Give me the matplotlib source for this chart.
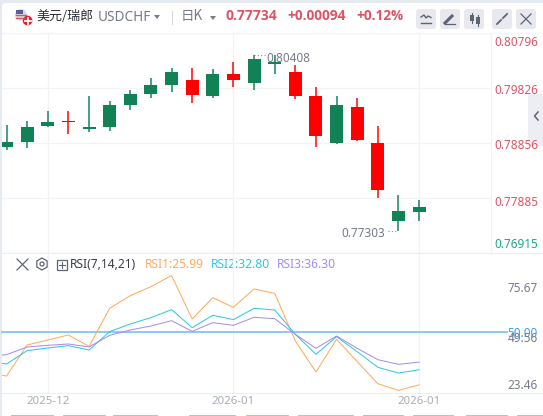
import matplotlib.pyplot as plt
from matplotlib.patches import Circle, FancyBboxPatch, Rectangle, RegularPolygon
from matplotlib.transforms import ScaledTranslation

plt.rcParams['font.family'] = ['Noto Sans', 'Noto Sans CJK SC', 'DejaVu Sans']

# daily candles
opens = [0.78785, 0.78874, 0.79156, 0.79244, 0.79103, 0.79138, 0.79526, 0.79720, 0.79879, 0.79967, 0.79685,
         0.80073, 0.79914, 0.80249, 0.80108, 0.79685, 0.78856, 0.79491, 0.78856, 0.77480, 0.77640]
highs = [0.79173, 0.79244, 0.79420, 0.79420, 0.79685, 0.79597, 0.79791, 0.80002, 0.80179, 0.80179, 0.80161,
         0.80285, 0.80408, 0.80408, 0.80232, 0.79844, 0.79685, 0.79650, 0.79156, 0.77939, 0.77851]
lows = [0.78733, 0.78768, 0.79138, 0.79015, 0.79050, 0.79068, 0.79438, 0.79650, 0.79755, 0.79561, 0.79650,
        0.79844, 0.79791, 0.80073, 0.79632, 0.78785, 0.78838, 0.78891, 0.77886, 0.77303, 0.77480]
closes = [0.78874, 0.79138, 0.79231, 0.79226, 0.79138, 0.79526, 0.79720, 0.79879, 0.80108, 0.79703, 0.80073,
          0.79967, 0.80337, 0.80285, 0.79685, 0.78979, 0.79526, 0.78909, 0.78027, 0.77657, 0.77734]

# RSI, first value sits just off the left edge
rsi_x = list(range(-1, 21))
rsi1 = [31.5, 30.0, 44.09, 46.36, 48.64, 43.48, 60.76, 66.52, 70.6, 75.67, 55.91, 65.6, 61.2, 69.55, 67.58,
        45.91, 31.82, 46.67, 36.52, 26.52, 23.46, 25.99]
rsi2 = [37.0, 35.45, 41.52, 42.73, 43.79, 41.82, 50.15, 53.64, 56.52, 60.15, 51.97, 57.58, 55.61, 60.76, 60.0,
        48.94, 39.85, 47.88, 41.06, 33.94, 31.36, 32.80]
rsi3 = [38.9, 39.7, 43.18, 43.94, 44.55, 43.18, 48.48, 50.91, 52.73, 55.15, 50.3, 54.24, 53.03, 56.67, 56.06,
        48.94, 42.58, 48.18, 42.58, 37.42, 35.3, 36.30]

price_ticks = [0.80796, 0.79826, 0.78856, 0.77885, 0.76915]
rsi_ticks = [75.67, 50.00, 49.56, 23.46]
date_pos = [2, 11, 20]
date_labels = ['2025-12', '2026-01', '2026-01']

W, H = 543, 416
UP = '#118256'
DOWN = '#ff0000'
GRID = '#f2f3f6'
RED_TXT = '#dd5565'
GREY_TXT = '#767b8a'
BTN = '#e7e9ef'
ICON = '#5f6473'
PX = 0.72  # font points per pixel at dpi 100


def box(x0, y0, x1, y1):
    return [x0 / W, 1 - y1 / H, (x1 - x0) / W, (y1 - y0) / H]


fig = plt.figure(figsize=(W / 100, H / 100), dpi=100, facecolor='#e6ebf2')

# page chrome in pixel coordinates
ui = fig.add_axes([0, 0, 1, 1], zorder=0)
ui.set_xlim(0, W)
ui.set_ylim(H, 0)
ui.axis('off')
ui.add_patch(FancyBboxPatch((2, 3), W + 20, H, boxstyle='round,pad=0,rounding_size=4', fc='white', ec='none'))
ui.plot([2, W], [33, 33], color='#f5f6f8', lw=1)
ui.add_patch(Rectangle((528, 94), 15, 52, fc='#eceef3', ec='none'))
ui.plot([538, 534.5, 538], [112, 116, 120], color=ICON, lw=1.1)
ui.plot([491, 491], [33, 253], color=GRID, lw=0.8)
ui.plot([2, W], [253, 253], color='#eceef2', lw=0.8)
ui.plot([2, W], [393, 393], color='#eceef2', lw=0.8)

# clipped row of buttons along the bottom edge
for x0, x1 in [(12, 53), (64, 105), (114, 157), (190, 235), (247, 288), (299, 353), (364, 403), (414, 453), (467, 507), (518, 543)]:
    ui.plot([x0, x1], [415.5, 415.5], color='#e3a94f', lw=1.2)

# flag
ui.add_patch(Circle((21, 15), 6, fc='#d8dbe6', ec='none'))
ui.add_patch(Rectangle((15.5, 9.5), 7, 4, fc='#5a5f95', ec='none'))
ui.plot([16, 26], [15, 15], color='#cf5b66', lw=1)
ui.plot([16, 25], [18, 18], color='#cf5b66', lw=1)
ui.add_patch(Circle((27.5, 20.5), 5.3, fc='#ea1c2c', ec='white', lw=0.6))
ui.plot([24.5, 30.5], [20.5, 20.5], color='white', lw=1.3)
ui.plot([27.5, 27.5], [17.5, 23.5], color='white', lw=1.3)

ui.text(36, 16, '美元/瑞郎', fontsize=13 * PX, color='#2b2e38', va='center', family=['Noto Sans CJK SC', 'DejaVu Sans'])
ui.text(98, 17.5, 'USDCHF', fontsize=13.6 * PX, color=GREY_TXT, va='center')
ui.text(181, 16, '日K', fontsize=13.5 * PX, color=GREY_TXT, va='center', family=['Noto Sans CJK SC', 'DejaVu Sans'])
ui.fill([154, 160, 157], [15, 15, 19], color=GREY_TXT, lw=0)
ui.fill([210, 216, 213], [16, 16, 20], color=GREY_TXT, lw=0)
ui.plot([171.5, 171.5], [11, 24], color='#d5d8df', lw=0.8)
ui.text(226, 16, '0.77734', fontsize=13.9 * PX, color=RED_TXT, va='center', weight='bold', family='Open Sans')
ui.text(287, 16, '+0.00094', fontsize=13.6 * PX, color=RED_TXT, va='center', weight='bold', family='Open Sans')
ui.text(356, 16, '+0.12%', fontsize=13.6 * PX, color=RED_TXT, va='center', weight='bold', family='Open Sans')

for x0 in [416, 440, 464, 492, 516]:
    ui.add_patch(FancyBboxPatch((x0, 9), 20, 20, boxstyle='round,pad=0,rounding_size=3', fc=BTN, ec='none'))
ui.plot([421, 424, 426, 428, 431], [17, 15, 18, 16, 17.5], color=ICON, lw=1)
ui.plot([421, 431], [22.5, 22.5], color=ICON, lw=1)
ui.plot([445, 452], [23, 16], color=ICON, lw=2.2)
ui.plot([445, 455], [24, 24], color=ICON, lw=0.9)
ui.add_patch(Rectangle((469.5, 15), 4, 6, fc=ICON, ec='none'))
ui.add_patch(Rectangle((476, 17), 4, 7, fc=ICON, ec='none'))
ui.plot([471.5, 471.5], [13, 23], color=ICON, lw=0.8)
ui.plot([478, 478], [15, 26], color=ICON, lw=0.8)
ui.plot([497, 501], [24, 20], color=ICON, lw=1.3)
ui.plot([503, 507], [18, 14], color=ICON, lw=1.3)
ui.plot([521, 531], [14, 24], color=ICON, lw=0.9)
ui.plot([521, 531], [24, 14], color=ICON, lw=0.9)

# RSI pane toolbar
ui.plot([17, 28], [259, 270], color=ICON, lw=0.9)
ui.plot([17, 28], [270, 259], color=ICON, lw=0.9)
ui.add_patch(RegularPolygon((42, 264), 6, radius=6, fc='none', ec=ICON, lw=0.9))
ui.add_patch(Circle((42, 264), 2, fc='none', ec=ICON, lw=0.9))
ui.add_patch(Rectangle((56.5, 259.5), 10, 10, fc='none', ec=ICON, lw=0.9))
ui.plot([58.5, 64.5], [264.5, 264.5], color=ICON, lw=0.8)
ui.plot([61.5, 61.5], [261.5, 267.5], color=ICON, lw=0.8)
ui.text(70, 264.5, 'RSI(7,14,21)', fontsize=12 * PX, color='#3a3d48', va='center')
ui.text(145, 264.5, 'RSI1:25.99', fontsize=12 * PX, color='#ffa95c', va='center')
ui.text(211, 264.5, 'RSI2:32.80', fontsize=12 * PX, color='#2dc8e0', va='center')
ui.text(277, 264.5, 'RSI3:36.30', fontsize=12 * PX, color='#a78be8', va='center')

# candles
x_left = (2 - 6.5) / 20.63
x_right = (491 - 6.5) / 20.63

ax = fig.add_axes(box(2, 33, 491, 253), zorder=2)
ax.patch.set_visible(False)
ax.set_xlim(x_left, x_right)
ax.set_ylim(price_ticks[-1], price_ticks[0])
for s in ax.spines.values():
    s.set_visible(False)
ax.grid(True, color=GRID, lw=0.9)
ax.set_axisbelow(True)
ax.set_xticks(date_pos)
ax.tick_params(axis='x', length=0, labelbottom=False)

for i in range(len(opens)):
    c = UP if closes[i] >= opens[i] else DOWN
    ax.vlines(i, lows[i], highs[i], color=c, lw=1.5 * PX, zorder=3)
    ax.bar(i, abs(closes[i] - opens[i]), bottom=min(opens[i], closes[i]), width=0.63, color=c, lw=0, zorder=4)

ax.yaxis.tick_right()
ax.set_yticks(price_ticks)
ax.set_yticklabels([f'{v:.5f}' for v in price_ticks], fontsize=11.8 * PX, ha='right')
ax.tick_params(axis='y', length=0, pad=47 * PX)
shifts = [8, 1, 1, 3, -10]
for lab, v, dy in zip(ax.get_yticklabels(), price_ticks, shifts):
    lab.set_color('#1aa88c' if v == price_ticks[-1] else RED_TXT)
    lab.set_transform(lab.get_transform() + ScaledTranslation(0, -dy * PX / 72, fig.dpi_scale_trans))

# extreme price marks
hi = max(highs)
lo = min(lows)
hi_i = highs.index(hi)
lo_i = lows.index(lo)
ax.plot([hi_i, hi_i + 0.55], [hi, hi], color='#8a8e9b', lw=0.8, ls=(0, (1, 2)), zorder=5)
ax.annotate(f'{hi:.5f}', (hi_i, hi), xytext=(12.5 * PX, -3.5 * PX), textcoords='offset points', fontsize=11.8 * PX,
            color=GREY_TXT, va='center', zorder=6)
ax.plot([lo_i - 0.5, lo_i], [lo, lo], color='#8a8e9b', lw=0.8, ls=(0, (1, 2)), zorder=5)
ax.annotate(f'{lo:.5f}', (lo_i, lo), xytext=(-13 * PX, -2.5 * PX), textcoords='offset points', fontsize=11.8 * PX,
            color=GREY_TXT, va='center', ha='right', zorder=6)

# RSI pane
ax2 = fig.add_axes(box(2, 253, 491, 393), zorder=1)
ax2.patch.set_visible(False)
ax2.set_xlim(x_left, x_right)
ax2.set_ylim(22.27, 85.9)
for s in ax2.spines.values():
    s.set_visible(False)
ax2.grid(True, axis='x', color=GRID, lw=0.9)
ax2.set_axisbelow(True)
ax2.plot(rsi_x, rsi1, color='#ffa95c', lw=1 * PX)
ax2.plot(rsi_x, rsi2, color='#2dc8e0', lw=1 * PX)
ax2.plot(rsi_x, rsi3, color='#a78be8', lw=1 * PX)
ax2.axhline(50, xmin=0, xmax=(507 - 2) / 489, color='#8ec9fa', lw=2 * PX, clip_on=False, zorder=1.5)

ax2.set_xticks(date_pos)
ax2.set_xticklabels(date_labels, fontsize=11.5 * PX, color='#a9acb9')
ax2.tick_params(axis='x', length=0, pad=2.5)

ax2.yaxis.tick_right()
ax2.set_yticks(rsi_ticks)
ax2.set_yticklabels([f'{v:.2f}' for v in rsi_ticks], fontsize=11.8 * PX, ha='right')
ax2.tick_params(axis='y', length=0, pad=47 * PX)
rsi_shift = [11.5, 0, 3.7, -6.5]
rsi_col = [GREY_TXT, '#3c9df0', GREY_TXT, GREY_TXT]
for lab, dy, c in zip(ax2.get_yticklabels(), rsi_shift, rsi_col):
    lab.set_color(c)
    lab.set_transform(lab.get_transform() + ScaledTranslation(0, -dy * PX / 72, fig.dpi_scale_trans))

fig.savefig('out.png', dpi=100, facecolor=fig.get_facecolor())
plt.close(fig)
